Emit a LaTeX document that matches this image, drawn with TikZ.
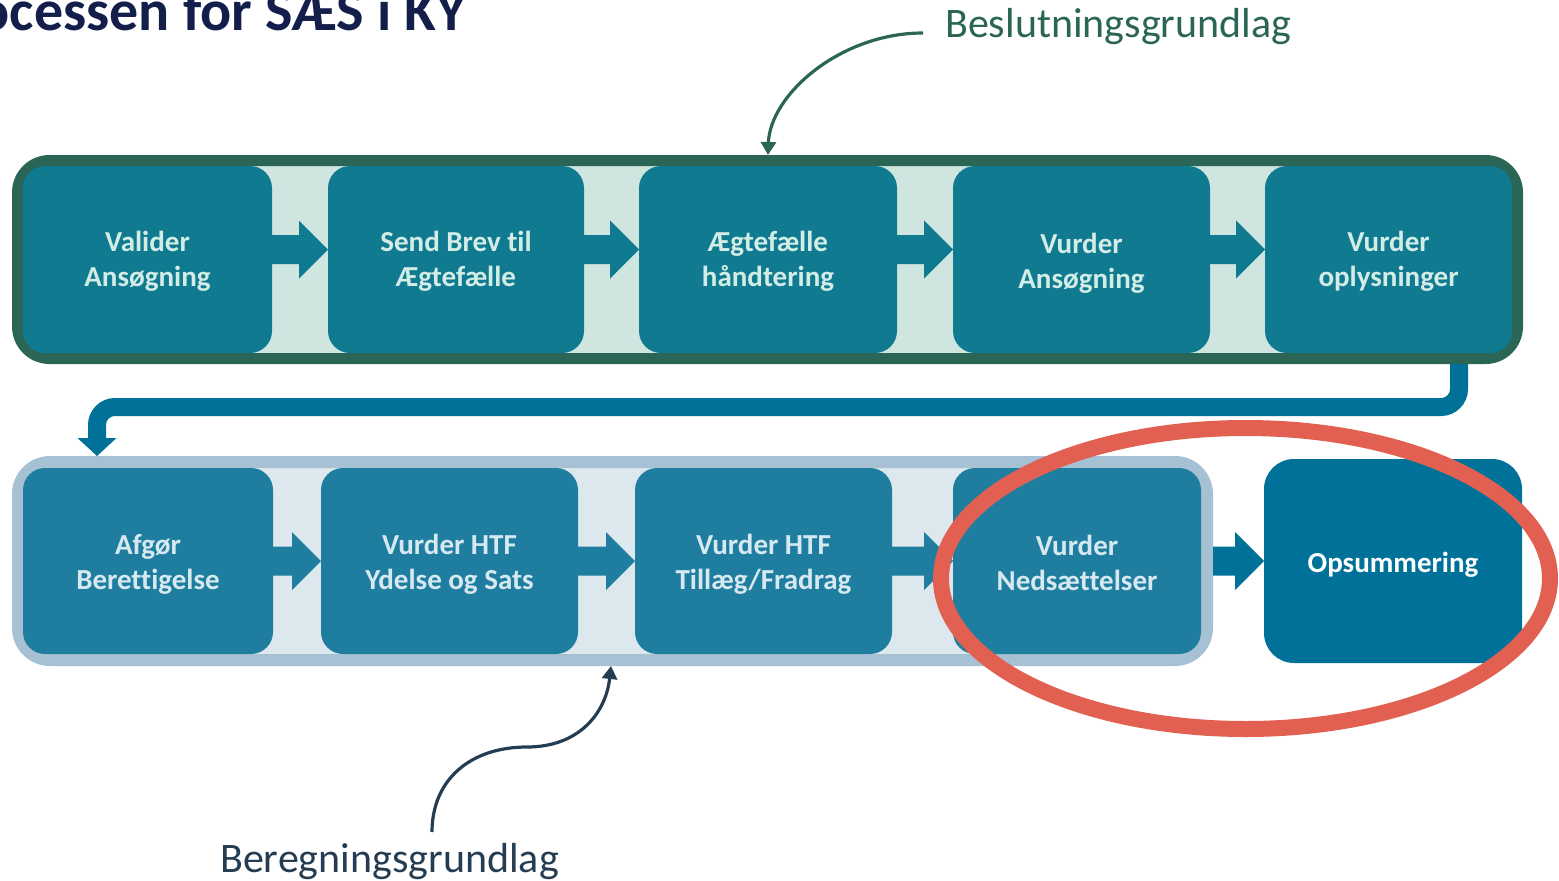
\documentclass[tikz,border=0pt]{standalone}
\usepackage{fontspec}
\setmainfont{Carlito}[Ligatures=NoCommon]
\usetikzlibrary{arrows.meta}
\definecolor{dkgreen}{HTML}{2A6556}
\definecolor{ltgreen}{HTML}{CFE5E0}
\definecolor{topbox}{HTML}{107A91}
\definecolor{toptext}{HTML}{D2ECE6}
\definecolor{botstroke}{HTML}{A6C1D3}
\definecolor{botfill}{HTML}{DDE7EE}
\definecolor{botbox}{HTML}{1F7EA0}
\definecolor{bottext}{HTML}{D6E9F1}
\definecolor{connblue}{HTML}{00729A}
\definecolor{ringred}{HTML}{E26052}
\definecolor{slate}{HTML}{253D52}
\definecolor{navy}{HTML}{131F4A}
\newcommand\blockarrow[4]{%
  \fill[#1] ([yshift=#4+14.5pt]#2.east) -- ([xshift=-29pt,yshift=#4+14.5pt]#3.west)
    -- ([xshift=-29pt,yshift=#4+29pt]#3.west) -- ([yshift=#4]#3.west)
    -- ([xshift=-29pt,yshift=#4-29pt]#3.west) -- ([xshift=-29pt,yshift=#4-14.5pt]#3.west)
    -- ([yshift=#4-14.5pt]#2.east) -- cycle;}
\newcommand\dn[2]{\raisebox{-#1}[\height][\depth]{#2}}
\tikzset{
  boxtxt/.style={font=\bfseries\fontsize{29pt}{35pt}\selectfont, align=center, inner sep=0pt, outer sep=0pt},
  topstep/.style={boxtxt, fill=topbox, text=toptext, rounded corners=22pt, minimum height=187pt},
  botstep/.style={boxtxt, fill=botbox, text=bottext, rounded corners=22pt, minimum height=186pt},
  topframe/.style={draw=dkgreen, fill=ltgreen, line width=11pt, rounded corners=32pt, minimum width=1500pt, minimum height=198pt, inner sep=0pt},
  botframe/.style={draw=botstroke, fill=botfill, line width=12pt, rounded corners=32pt, minimum width=1189pt, minimum height=198pt, inner sep=0pt},
  lbl/.style={font=\fontsize{42pt}{50pt}\selectfont, inner sep=0pt, anchor=base west},
  thinarrow/.style={line width=3.2pt, -{Triangle[length=13pt,width=15pt]}},
}
\begin{document}
\begin{tikzpicture}[x=1pt,y=-1pt]
\useasboundingbox (0,0) rectangle (1559,881);
\clip (0,0) rectangle (1559,881);
% title (cut off at the page edge, as in the reference)
\node[anchor=base east, inner sep=0pt, text=navy, font=\bfseries\fontsize{58pt}{62pt}\selectfont] (title) at (467,30) {Processen for SÆS i KY};
% frames
\node[topframe] (top) at (767.5,259.5) {};
\node[botframe] (bot) at (612.5,561) {};
% top boxes
\node[topstep, minimum width=249pt] (a1) at (147.5,259.5) {\dn{2pt}{Valider}\\\dn{2pt}{Ansøgning}};
\node[topstep, minimum width=256pt] (a2) at (456,259.5) {\dn{2pt}{Send Brev til}\\\dn{2pt}{Ægtefælle}};
\node[topstep, minimum width=258pt] (a3) at (768,259.5) {\dn{2pt}{Ægtefælle}\\\dn{2pt}{håndtering}};
\node[topstep, minimum width=257pt] (a4) at (1081.5,259.5) {\dn{4pt}{Vurder}\\\dn{4pt}{Ansøgning}};
\node[topstep, minimum width=247pt] (a5) at (1388.5,259.5) {\dn{2pt}{Vurder}\\\dn{2pt}{oplysninger}};
\blockarrow{topbox}{a1}{a2}{10pt}
\blockarrow{topbox}{a2}{a3}{10pt}
\blockarrow{topbox}{a3}{a4}{10pt}
\blockarrow{topbox}{a4}{a5}{10pt}
% bottom boxes
\node[botstep, minimum width=250pt] (b1) at (148,561) {\dn{3pt}{Afgør}\\\dn{3pt}{Berettigelse}};
\node[botstep, minimum width=257pt] (b2) at (449.5,561) {\dn{3pt}{Vurder HTF}\\\dn{3pt}{Ydelse og Sats}};
\node[botstep, minimum width=257pt] (b3) at (763.5,561) {\dn{3pt}{Vurder HTF}\\\dn{3pt}{Tillæg/Fradrag}};
\node[botstep, minimum width=248pt] (b4) at (1077,561) {\dn{2pt}{Vurder}\\\dn{2pt}{Nedsættelser}};
\node[boxtxt, fill=connblue, text=white, rounded corners=30pt, minimum width=258pt, minimum height=204pt] (ops) at (1393,561) {\dn{4pt}{Opsummering}};
\blockarrow{botbox}{b1}{b2}{0pt}
\blockarrow{botbox}{b2}{b3}{0pt}
\blockarrow{botbox}{b3}{b4}{0pt}
\blockarrow{connblue}{bot}{ops}{0pt}
% connector between rows
\coordinate (c1) at (1459,0);
\coordinate (c2) at (97,407);
\coordinate (c3) at (97,438);
\draw[connblue, line width=18pt, rounded corners=18pt] (top.south -| c1) |- (c2) -- (c3);
\fill[connblue] ([xshift=-19.5pt]c3) -- ([xshift=19.5pt]c3) -- (bot.north -| c3) -- cycle;
% labels
\node[lbl, text=dkgreen] (lab1) at (945,37) {Beslutningsgrundlag};
\node[lbl, text=slate] (lab2) at (220,872) {Beregningsgrundlag};
\coordinate (s1) at (923,33);
\coordinate (t1) at (768,0);
\draw[thinarrow, dkgreen] (s1) .. controls (840,33) and (770,95) .. (top.north -| t1);
\coordinate (s2) at (432,832);
\coordinate (m2) at (527,747);
\coordinate (t2) at (611,0);
\draw[thinarrow, slate] (s2) .. controls (432,780) and (470,747) .. (m2) .. controls (580,747) and (606,712) .. (bot.south -| t2);
% red ring
\draw[ringred, line width=16pt] (1245.5,578.5) ellipse [x radius=304.5pt, y radius=150.5pt];
\end{tikzpicture}
\end{document}
